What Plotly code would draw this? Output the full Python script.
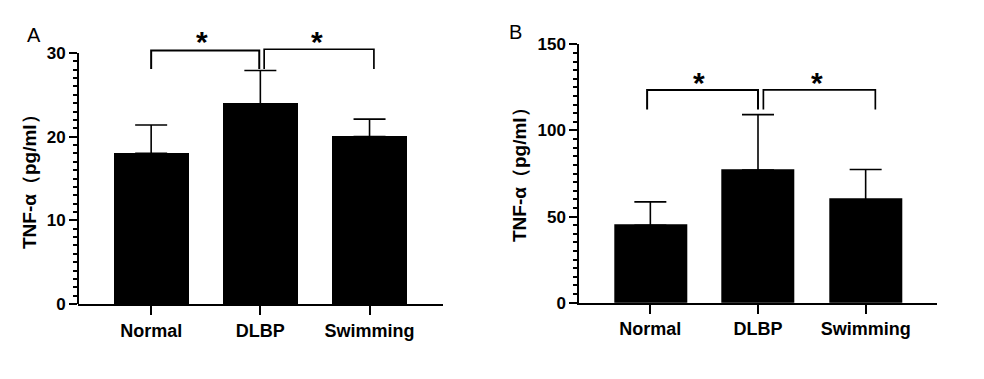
import plotly.graph_objects as go

# ---------------- data ----------------
categories = ["Normal", "DLBP", "Swimming"]
tnf_a_mean = [18.0, 23.9, 20.0]
tnf_a_sd = [3.4, 4.0, 2.1]
tnf_b_mean = [45.0, 77.0, 59.8]
tnf_b_sd = [13.5, 32.2, 17.5]
panel_labels = ["A", "B"]
y_title = "TNF-α（pg/ml）"
a_ticks = [0, 10, 20, 30]
b_ticks = [0, 50, 100, 150]

W, H = 984, 379
OFF = 8  # page body margin
FONT = "Liberation Sans, Arial, sans-serif"

fig = go.Figure()

def px_x(p):
    return (p - OFF) / W

def px_y(p):
    return 1 - (p - OFF) / H

# panel geometry (pixels in the screenshot)
A_dom_x = [px_x(78), px_x(442.7)]
A_dom_y = [px_y(304), px_y(27.9)]
B_dom_x = [px_x(579.3), px_x(936.7)]
B_dom_y = [px_y(302.7), px_y(44.3)]

for means, sds, xa, ya, bw in [
    (tnf_a_mean, tnf_a_sd, "x", "y", 0.67),
    (tnf_b_mean, tnf_b_sd, "x2", "y2", 0.66),
]:
    fig.add_trace(go.Bar(
        x=categories, y=means, xaxis=xa, yaxis=ya, width=bw,
        marker=dict(color="black", line=dict(color="black", width=2)),
        error_y=dict(type="data", array=sds, arrayminus=[0] * len(sds),
                     symmetric=False, color="black", thickness=1.6, width=16),
        showlegend=False, hoverinfo="skip",
    ))

tick_font = dict(family=FONT, size=17, color="black", weight="bold")
cat_font = dict(family=FONT, size=18, color="black", weight="bold")
title_font = dict(family=FONT, size=19, color="black", weight="bold")

common_x = dict(
    type="category", showline=True, linecolor="black", linewidth=2,
    ticks="outside", ticklen=9, tickwidth=1.6, tickcolor="black",
    tickfont=cat_font, showgrid=False, zeroline=False, fixedrange=True,
    automargin=False,
)

fig.update_layout(
    template="none",
    width=W, height=H,
    margin=dict(l=0, r=0, t=0, b=0, pad=0),
    paper_bgcolor="white", plot_bgcolor="white",
    bargap=0,
    xaxis=dict(domain=A_dom_x, anchor="y", range=[-0.67, 2.67], **common_x),
    xaxis2=dict(domain=B_dom_x, anchor="y2", range=[-0.66, 2.66], **common_x),
    yaxis=dict(
        domain=A_dom_y, anchor="x", range=[0, 33], showline=False,
        tickmode="array", tickvals=a_ticks, ticks="outside", ticklen=8,
        tickwidth=2, tickcolor="black", tickfont=tick_font,
        minor=dict(tickmode="array", tickvals=list(range(0, 31)), ticks="outside",
                   ticklen=4, tickwidth=1.5, tickcolor="black", showgrid=False),
        showgrid=False, zeroline=False, automargin=False,
    ),
    yaxis2=dict(
        domain=B_dom_y, anchor="x2", range=[0, 150], showline=True,
        linecolor="black", linewidth=2,
        tickmode="array", tickvals=b_ticks, ticks="outside", ticklen=8,
        tickwidth=2, tickcolor="black", tickfont=tick_font,
        minor=dict(dtick=5, tick0=0, ticks="outside", ticklen=4, tickwidth=1.5,
                   tickcolor="black", showgrid=False),
        showgrid=False, zeroline=False, automargin=False,
    ),
)

# y-axis line of panel A stops at 30
fig.add_shape(type="line", xref="x domain", yref="y", x0=0, x1=0, y0=0, y1=30,
              line=dict(color="black", width=2))

# y-axis titles (rotated)
for xp, yp in [(30, 177), (519, 170)]:
    fig.add_annotation(xref="paper", yref="paper", x=px_x(xp), y=px_y(yp),
                       text=y_title, textangle=-90, showarrow=False,
                       xanchor="center", yanchor="middle", font=title_font)

# significance brackets
def bracket(xa, ya, x0, x1, top, leg, w=2):
    fig.add_shape(type="path", xref=xa, yref=ya,
                  path=f"M {x0},{leg} L {x0},{top} L {x1},{top} L {x1},{leg}",
                  line=dict(color="black", width=w))

bracket("x", "y", 0.0, 0.99, 30.3, 28.1)
bracket("x", "y", 1.035, 2.04, 30.45, 28.1, 1.7)
bracket("x2", "y2", -0.03, 1.0, 123.5, 112.2)
bracket("x2", "y2", 1.05, 2.09, 123.5, 112.2, 1.7)

star_font = dict(family=FONT, size=30, color="black", weight="bold")
for xa, ya, xs, ys in [("x", "y", 0.47, 31.9), ("x", "y", 1.52, 31.9),
                       ("x2", "y2", 0.45, 130.2), ("x2", "y2", 1.55, 130.2)]:
    fig.add_annotation(xref=xa, yref=ya, x=xs, y=ys, text="*", showarrow=False,
                       font=star_font, xanchor="center", yanchor="middle", yshift=-4)

# panel letters
for lab, xp, yp in [(panel_labels[0], 34, 35.5), (panel_labels[1], 515, 32.5)]:
    fig.add_annotation(xref="paper", yref="paper", x=px_x(xp), y=px_y(yp),
                       text=lab, showarrow=False, xanchor="center", yanchor="middle",
                       font=dict(family=FONT, size=20, color="black"))

fig.write_html("out.html")
